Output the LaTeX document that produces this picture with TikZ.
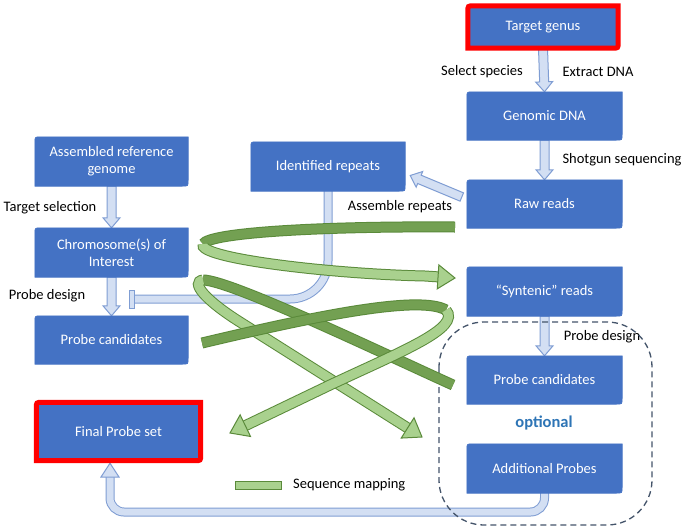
\documentclass[tikz,border=0pt]{standalone}
\usepackage{fontspec}
\setmainfont{Carlito}
\usetikzlibrary{calc}
\definecolor{boxblue}{HTML}{4472C4}
\definecolor{pipefill}{HTML}{D3DFF3}
\definecolor{pipeedge}{HTML}{7F9DD3}
\definecolor{ribL}{HTML}{A9D18E}
\definecolor{ribD}{HTML}{73A052}
\definecolor{ribE}{HTML}{5A8A3A}
\definecolor{dashc}{HTML}{44546A}
\definecolor{optc}{HTML}{2E75B6}
\pgfdeclarelayer{back}\pgfdeclarelayer{pipes}\pgfdeclarelayer{frames}\pgfsetlayers{back,pipes,frames,main}
\newcommand\rdframe[2]{\path[#2] (#1.north east) -- ($(#1.south east)+(0,-6)$) .. controls (#1.south east) .. ($(#1.south east)+(-6,0)$) -- (#1.south west) -- ($(#1.north west)+(0,6)$) .. controls (#1.north west) .. ($(#1.north west)+(6,0)$) -- cycle;}
\newcommand\blkarrow[2]{%
  \coordinate (bkC) at ($(#2)!10pt!(#1)$);
  \draw[blk] ($(#1)!4.5pt!90:(#2)$) -- ($(bkC)!4.5pt!90:(#2)$) -- ($(bkC)!8.5pt!90:(#2)$) -- (#2) -- ($(bkC)!8.5pt!-90:(#2)$) -- ($(bkC)!4.5pt!-90:(#2)$) -- ($(#1)!4.5pt!-90:(#2)$) -- cycle;}
\newcommand\ribhead[2]{%
  \filldraw[ribhd] ($(#1)!12pt!90:(#2)$) -- (#2) -- ($(#1)!12pt!-90:(#2)$) -- cycle;}
\newcommand\bxfont{\fontsize{14.5}{17}\selectfont}
\begin{document}
\begin{tikzpicture}[x=1pt,y=-1pt,
  box/.style={rectangle, inner sep=2pt, text=white, align=center, font=\bxfont, minimum width=155pt, minimum height=48pt},
  frame/.style={fill=boxblue, draw=boxblue, line width=0.6pt},
  redframe/.style={fill=boxblue, draw=red, line width=5pt, line join=miter},
  lbl/.style={font=\bxfont, text=black, inner sep=1pt},
  blk/.style={fill=pipefill, draw=pipeedge, line width=1pt, line join=miter},
  pipe/.style={draw=pipeedge, line width=1pt, double=pipefill, double distance=7pt},
  ribdark/.style={draw=ribD, line width=9pt, preaction={draw=ribE, line width=11pt}},
  riblight/.style={draw=ribL, line width=9pt, preaction={draw=ribE, line width=11pt}},
  ribhd/.style={fill=ribL, draw=ribE, line width=1pt, line join=miter}]
\useasboundingbox (0,0) rectangle (685,528);
\begin{pgfonlayer}{back}
  \fill[white] (0,0) rectangle (685,528);
\end{pgfonlayer}

% nodes
\node[box, minimum width=150pt, minimum height=42pt] (tg) at (543,27) {Target genus};
\node[box] (gd) at (544.5,116) {Genomic DNA};
\node[box] (rr) at (544.5,204) {Raw reads};
\node[box, minimum height=49pt] (syn) at (544.5,291.5) {“Syntenic” reads};
\node[box] (pcr) at (544.5,380) {Probe candidates};
\node[box, minimum height=49pt] (ap) at (544.5,468.5) {Additional Probes};
\node[box, minimum width=153pt, minimum height=49pt] (arg) at (111.5,161.5) {Assembled reference\\genome};
\node[box, minimum width=153pt, minimum height=49pt] (chr) at (111.5,252.5) {Chromosome(s) of\\Interest};
\node[box, minimum width=153pt] (pcl) at (111.5,340) {Probe candidates};
\node[box, minimum width=164pt, minimum height=58pt] (fps) at (118.5,431.5) {Final Probe set};
\node[box, minimum width=154pt, minimum height=49pt] (ir) at (328,166.5) {Identified repeats};

\begin{pgfonlayer}{frames}
  \foreach \n in {gd,rr,syn,pcr,ap,arg,chr,pcl,ir} {\rdframe{\n}{frame}}
  \rdframe{tg}{redframe}
  \rdframe{fps}{redframe}
\end{pgfonlayer}

\begin{pgfonlayer}{pipes}
  \blkarrow{tg.south}{gd.north}
  \blkarrow{gd.south}{rr.north}
  \blkarrow{syn.south}{pcr.north}
  \blkarrow{arg.south}{chr.north}
  \blkarrow{chr.south}{pcl.north}
  \coordinate (arS) at ($(rr.west)+(-5,-7)$);
  \coordinate (arT) at ($(ir.east)+(5,9)$);
  \blkarrow{arS}{arT}
  % repeats pipe with T end
  \coordinate (tb) at (133,299);
  \draw[pipe, rounded corners=38pt] ($(ir.south)+(0,-5)$) -- (ir.south |- tb) -- (tb);
  \filldraw[fill=pipefill, draw=pipeedge, line width=1pt] ($(tb)+(-4,-9)$) rectangle ($(tb)+(1,9)$);
  % bottom pipe
  \coordinate (bh) at (110,477);
  \coordinate (bl) at (110,512);
  \draw[pipe, rounded corners=14pt] ($(ap.south)+(0,-5)$) -- (ap.south |- bl) -- (bl) -- (bh);
  \filldraw[blk] ($(bh)+(-9,0)$) -- ($(fps.south -| bh)+(0,2.5)$) -- ($(bh)+(9,0)$) -- cycle;
\end{pgfonlayer}

% labels
\node[lbl] (lss) at (482,72) {Select species};
\node[lbl] (led) at (598,72) {Extract DNA};
\node[lbl] (lsg) at (622,160) {Shotgun sequencing};
\node[lbl] (lar) at (400,207) {Assemble repeats};
\node[lbl] (lts) at (50,208) {Target selection};
\node[lbl] (lpd1) at (47,296) {Probe design};
\node[lbl] (lpd2) at (602,337) {Probe design};
\node[font=\fontsize{16.5}{19}\selectfont\bfseries, text=optc] (opt) at (544,423) {optional};

% dashed optional region
\draw[dashc, dash pattern=on 6pt off 4pt, line width=1.3pt, rounded corners=45pt] (439,322) rectangle (652,525);

% ribbon B
\draw[ribdark] (453,385) .. controls (380,352) and (230,280) .. (203,280);
\coordinate (bT) at (422,437);
\coordinate (bQ) at (240,322);
\coordinate (bC) at ($(bT)!17pt!(bQ)$);
\draw[riblight] (203,280) .. controls (190,282) and (205,300) .. (bQ) -- (bC);
\ribhead{bC}{bT}
% ribbon C
\draw[ribdark] (202,343) .. controls (320,315) and (420,295) .. (446,310);
\coordinate (cT) at (230,433);
\coordinate (cQ) at (330,385);
\coordinate (cC) at ($(cT)!17pt!(cQ)$);
\draw[riblight] (446,310) .. controls (462,328) and (400,352) .. (cQ) -- (cC);
\ribhead{cC}{cT}
% ribbon A
\draw[ribdark] (455,227) .. controls (330,226) and (210,232) .. (203,244);
\coordinate (aT) at (455,278);
\coordinate (aQ) at (425,276);
\coordinate (aC) at ($(aT)!17pt!(aQ)$);
\draw[riblight] (203,244) .. controls (196,258) and (330,274) .. (aQ) -- (aC);
\ribhead{aC}{aT}

% legend
\filldraw[fill=ribL, draw=ribE, line width=1pt] (235,481) rectangle (281,489);
\node[lbl, anchor=west] (leg) at (292,485) {Sequence mapping};
\end{tikzpicture}
\end{document}
